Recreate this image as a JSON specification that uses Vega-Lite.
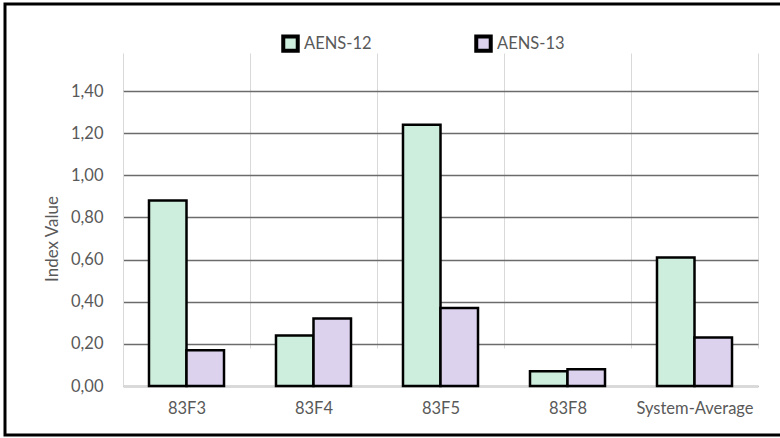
{
  "$schema": "https://vega.github.io/schema/vega-lite/v6.json",
  "width": 781,
  "height": 431,
  "autosize": {"type": "none"},
  "padding": {"left": 5, "top": 4, "right": -6, "bottom": 3},
  "config": {
    "view": {"stroke": "#000000", "strokeWidth": 3},
    "font": "Lato",
    "axis": {"labelColor": "#595959", "titleColor": "#595959", "labelFontSize": 16.5, "titleFontSize": 17, "titleFontWeight": "normal"},
    "legend": {"labelColor": "#595959", "labelFontSize": 16.5}
  },
  "data": {
    "values": [
      {"cat": "83F3", "series": "AENS-12", "value": 0.88},
      {"cat": "83F3", "series": "AENS-13", "value": 0.17},
      {"cat": "83F4", "series": "AENS-12", "value": 0.24},
      {"cat": "83F4", "series": "AENS-13", "value": 0.32},
      {"cat": "83F5", "series": "AENS-12", "value": 1.24},
      {"cat": "83F5", "series": "AENS-13", "value": 0.37},
      {"cat": "83F8", "series": "AENS-12", "value": 0.07},
      {"cat": "83F8", "series": "AENS-13", "value": 0.08},
      {"cat": "System-Average", "series": "AENS-12", "value": 0.61},
      {"cat": "System-Average", "series": "AENS-13", "value": 0.23}
    ]
  },
  "mark": {"type": "bar", "stroke": "#000000", "strokeWidth": 2.5},
  "encoding": {
    "x": {
      "field": "cat",
      "type": "nominal",
      "sort": ["83F3", "83F4", "83F5", "83F8", "System-Average"],
      "scale": {"range": [118, 753], "paddingInner": 0, "paddingOuter": 0},
      "axis": {
        "title": null,
        "offset": -49,
        "labelAngle": 0,
        "ticks": false,
        "labelPadding": 14,
        "labelFontSize": 16.5,
        "tickBand": "extent",
        "grid": true,
        "gridColor": "#d9d9d9",
        "gridWidth": 1,
        "domainColor": "#d9d9d9",
        "domainWidth": 1
      }
    },
    "xOffset": {
      "field": "series",
      "type": "nominal",
      "sort": ["AENS-12", "AENS-13"],
      "scale": {"paddingInner": 0, "paddingOuter": 0.693}
    },
    "y": {
      "field": "value",
      "type": "quantitative",
      "scale": {"domain": [0, 1.4], "range": [382, 87], "nice": false},
      "axis": {
        "title": "Index Value",
        "titleFontSize": 17,
        "labelFontSize": 16.5,
        "offset": -118,
        "values": [0, 0.2, 0.4, 0.6, 0.8, 1.0, 1.2, 1.4],
        "labelExpr": "replace(format(datum.value, '.2f'), '.', ',')",
        "ticks": false,
        "labelPadding": 20,
        "titlePadding": 9,
        "grid": true,
        "gridColor": "#6b6b6b",
        "gridWidth": 1.5,
        "domainColor": "#d9d9d9",
        "domainWidth": 1
      }
    },
    "fill": {
      "field": "series",
      "type": "nominal",
      "scale": {"domain": ["AENS-12", "AENS-13"], "range": ["#cdeedd", "#ddd2ee"]},
      "legend": {
        "title": null,
        "orient": "none",
        "legendX": 276,
        "legendY": 30,
        "direction": "horizontal",
        "symbolType": "square",
        "symbolSize": 210,
        "symbolStrokeColor": "#000000",
        "symbolStrokeWidth": 4,
        "labelOffset": 4,
        "labelFontSize": 16.5,
        "columnPadding": 96
      }
    }
  }
}
